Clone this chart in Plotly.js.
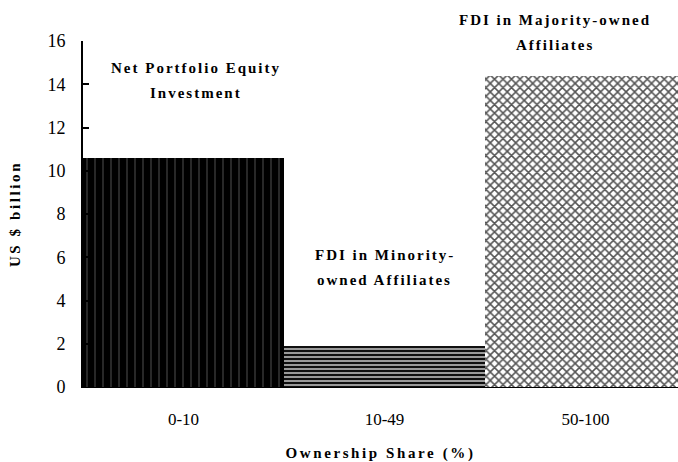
<!DOCTYPE html>
<html><head><meta charset="utf-8">
<script src="https://cdn.plot.ly/plotly-3.0.1.min.js"></script>
<style>
html,body{margin:0;padding:0;background:#fff}
.annotation-text{letter-spacing:2px}
.g-xtitle text,.g-ytitle text{letter-spacing:2.6px}
</style>
</head><body>
<div id="chart" style="width:678px;height:462px"></div>
<script>
const categories = ["0-10", "10-49", "50-100"];
const values = [10.6, 1.9, 14.4];
const labelLines = [
  ["Net Portfolio Equity", "Investment"],
  ["FDI in Minority-", "owned Affiliates"],
  ["FDI in Majority-owned", "Affiliates"]
];
const labelY = [[14.75, 13.6], [6.1, 4.95], [16.97, 15.8]];
const labelX = [0.06, 1.0, 1.85];
const yTicks = [0, 2, 4, 6, 8, 10, 12, 14, 16];

const patterns = [
  {shape: "|", bgcolor: "#000000", fgcolor: "#ffffff", size: 8, solidity: 0.04},
  {shape: "-", bgcolor: "#9a9a9a", fgcolor: "#000000", size: 4, solidity: 0.45},
  {shape: "x", bgcolor: "#ffffff", fgcolor: "#555555", size: 6, solidity: 0.45}
];

const traces = categories.map((c, i) => ({
  type: "bar",
  x: [c],
  y: [values[i]],
  marker: {color: patterns[i].bgcolor, pattern: patterns[i], line: {width: 0}},
  showlegend: false,
  hoverinfo: "skip"
}));

const serif = "Liberation Serif, Times New Roman, serif";
const annotations = [];
labelLines.forEach((lines, i) => {
  lines.forEach((t, j) => {
    annotations.push({
      x: labelX[i], y: labelY[i][j] / 16, xref: "x", yref: "paper",
      text: "<b>" + t + "</b>", showarrow: false,
      font: {family: serif, size: 15, color: "#000"},
      xanchor: "center", yanchor: "middle"
    });
  });
});

const layout = {
  width: 678, height: 462,
  margin: {l: 83, r: 0, t: 41, b: 75},
  paper_bgcolor: "#fff", plot_bgcolor: "#fff",
  barmode: "overlay", bargap: 0,
  font: {family: serif, color: "#000"},
  xaxis: {
    type: "category", range: [-0.5, 2.46],
    showline: true, linecolor: "#000", linewidth: 1,
    ticks: "", showgrid: false, zeroline: false,
    tickfont: {family: serif, size: 17, color: "#000"},
    ticklabelstandoff: 17,
    title: {text: "<b>Ownership Share (%)</b>", font: {family: serif, size: 15, color: "#000"}, standoff: 20}
  },
  yaxis: {
    range: [0, 16], tickvals: yTicks,
    showline: true, linecolor: "#000", linewidth: 2,
    ticks: "inside", ticklen: 6, tickwidth: 2, tickcolor: "#000",
    showgrid: false, zeroline: false,
    tickfont: {family: serif, size: 18, color: "#000"},
    ticklabelstandoff: 12,
    title: {text: "<b>US $ billion</b>", font: {family: serif, size: 15, color: "#000"}, standoff: 23}
  },
  annotations: annotations
};

Plotly.newPlot("chart", traces, layout, {displayModeBar: false, staticPlot: true});
</script>
</body></html>
